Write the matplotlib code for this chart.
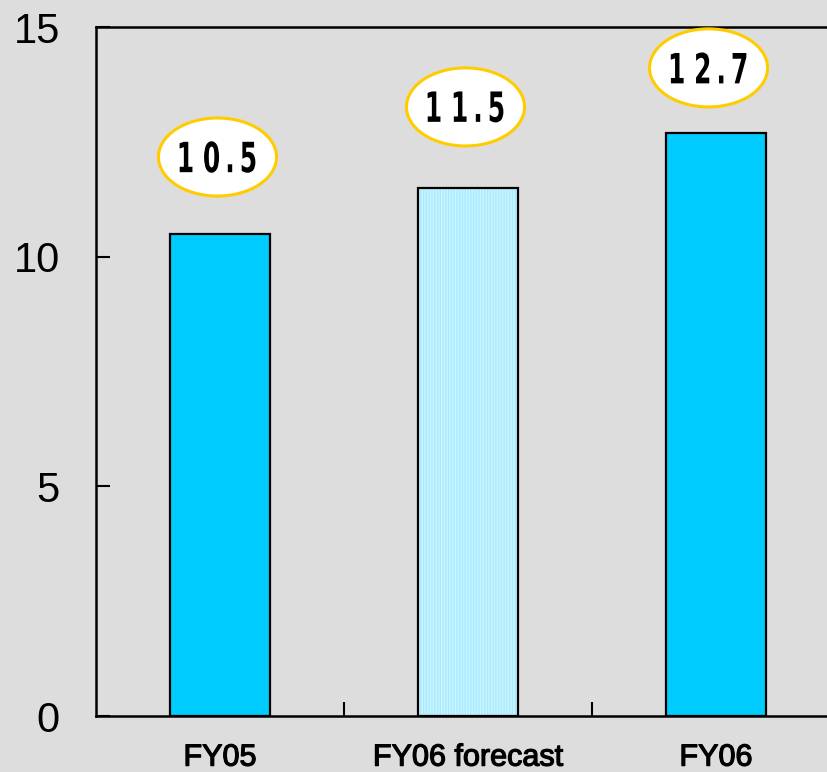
import matplotlib
matplotlib.use("Agg")
import matplotlib.pyplot as plt
import matplotlib.patheffects as pe
from matplotlib.patches import Ellipse, PathPatch
from matplotlib.textpath import TextPath
from matplotlib.font_manager import FontProperties
from matplotlib.transforms import Affine2D, ScaledTranslation

# data
categories = ["FY05", "FY06 forecast", "FY06"]
values = [10.5, 11.5, 12.7]
forecast = [False, True, False]
y_ticks = [0, 5, 10, 15]

# label bubble offsets above the bar tops (data units)
bubble_dx = [-0.01, -0.01, -0.03]
bubble_dy = [1.67, 1.76, 1.41]

bg = "#DDDDDD"
fig = plt.figure(figsize=(8.28, 7.72), dpi=100, facecolor=bg)
ax = fig.add_axes([0.1159, 0.0725, 0.8986, 0.8925], facecolor=bg)
ax.set_xlim(-0.5, 2.5)
ax.set_ylim(0, 15)

num_font = FontProperties(family="DejaVu Sans", weight="bold")


def narrow_label(x, y, s, size=30, sx=0.6):
    # condensed bold number, squeezed horizontally
    tp = TextPath((0, 0), s, size=size, prop=num_font)
    ext = tp.get_extents()
    cx0 = (ext.x0 + ext.x1) / 2
    cy0 = (ext.y0 + ext.y1) / 2
    tr = (Affine2D().translate(-cx0, -cy0).scale(sx / 72, 1 / 72)
          + fig.dpi_scale_trans + ScaledTranslation(x, y, ax.transData))
    ax.add_patch(PathPatch(tp, transform=tr, facecolor="black",
                           edgecolor="none", zorder=5, clip_on=False))


for i, (v, f) in enumerate(zip(values, forecast)):
    if f:
        # light forecast bar with fine vertical stripes
        ax.bar(i, v, width=0.4, color="#CCF5FF", edgecolor="#A8EBFF",
               linewidth=0, hatch="||||||", zorder=2)
        ax.bar(i, v, width=0.4, fill=False, edgecolor="black",
               linewidth=1.6, zorder=3)
    else:
        ax.bar(i, v, width=0.4, color="#00CCFF", edgecolor="black",
               linewidth=1.6, zorder=3)

    cx = i + bubble_dx[i]
    cy = v + bubble_dy[i]
    ax.add_patch(Ellipse((cx, cy), width=0.476, height=1.70,
                         facecolor="white", edgecolor="#FFCC00",
                         linewidth=2.2, zorder=4, clip_on=False))
    label = " ".join(f"{v:.1f}").replace(" .", "\u2009.").replace(". ", ".\u2009")
    narrow_label(cx, cy, label)

ax.set_yticks(y_ticks)
ax.set_yticklabels([str(t) for t in y_ticks], fontsize=30,
                   fontfamily="Liberation Sans")
ax.tick_params(axis="y", direction="in", length=10, width=1.5, pad=26)

ax.set_xticks([0.5, 1.5])
ax.set_xticklabels(["", ""])
ax.tick_params(axis="x", direction="in", length=10, width=1.5)
for i, c in enumerate(categories):
    ax.text(i, -1.08, c, ha="center", va="baseline", fontsize=22,
            fontfamily="Liberation Sans", clip_on=False,
            path_effects=[pe.withStroke(linewidth=0.9, foreground="black")])

for s in ["left", "bottom", "top", "right"]:
    ax.spines[s].set_linewidth(1.8)

fig.savefig("out.png", dpi=100, facecolor=bg)
